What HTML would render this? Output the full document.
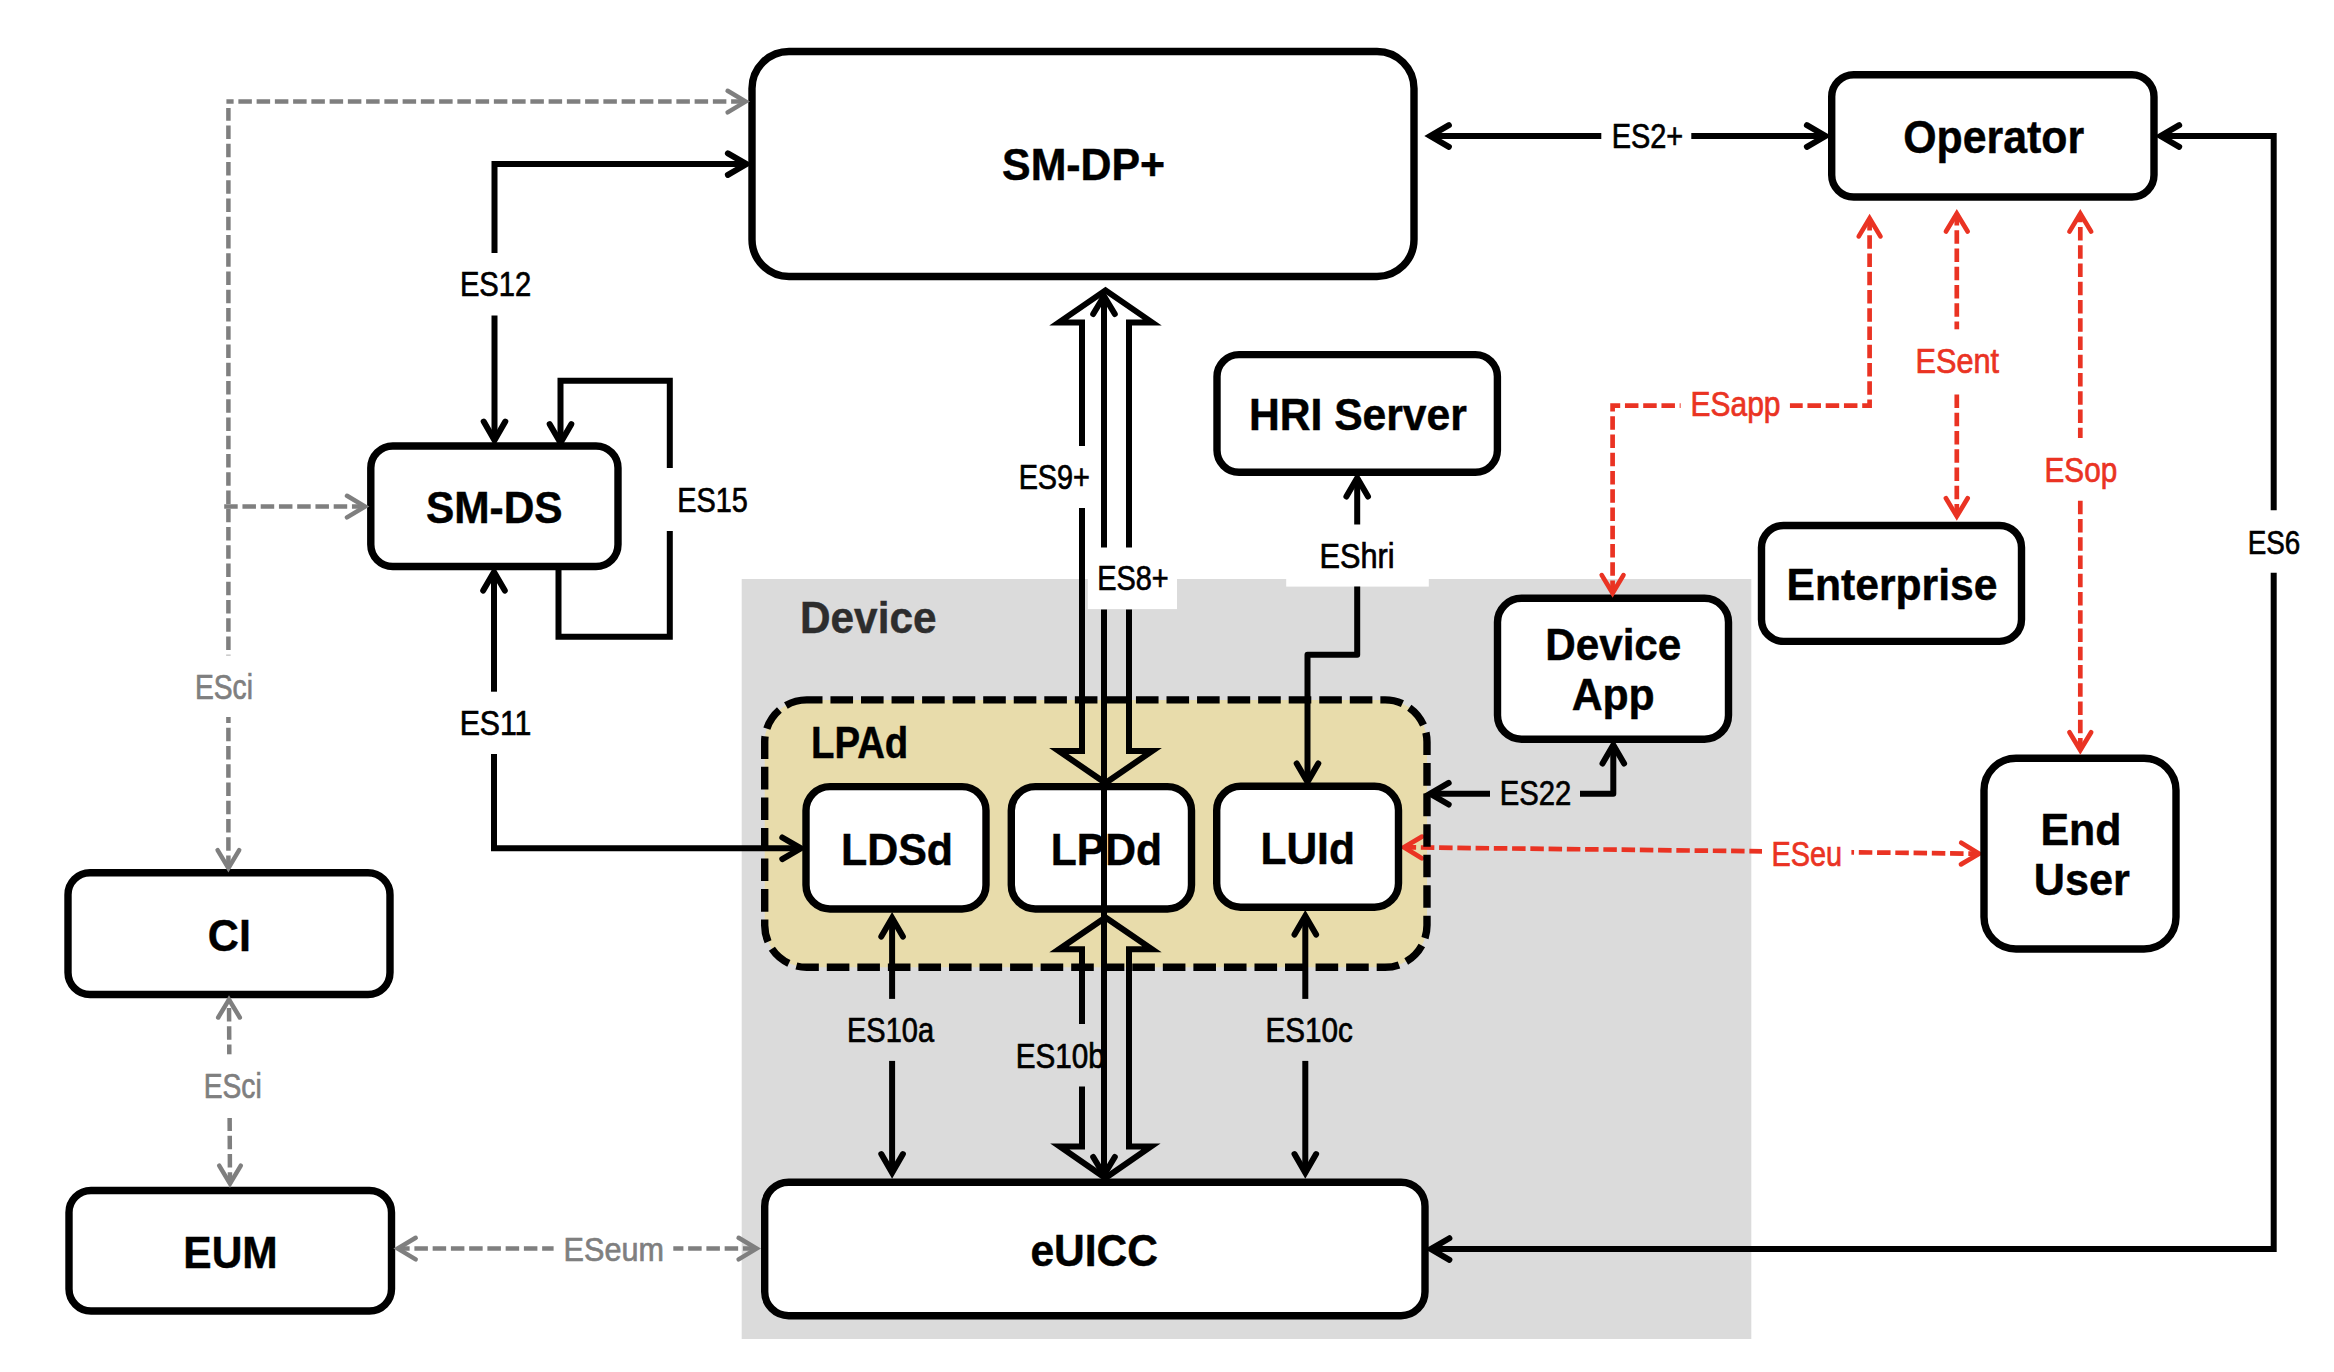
<!DOCTYPE html>
<html><head><meta charset="utf-8"><title>eSIM architecture</title>
<style>
html,body{margin:0;padding:0;background:#fff;}
body{width:2334px;height:1372px;overflow:hidden;}
svg{display:block;font-family:"Liberation Sans", sans-serif;}
</style></head><body>
<svg width="2334" height="1372" viewBox="0 0 2334 1372">
<rect width="2334" height="1372" fill="#fff"/>
<rect x="741.7" y="579" width="1009.6" height="760" fill="#dbdbdb"/>
<rect x="1087.8" y="560" width="89.2" height="49.1" fill="#fff"/>
<rect x="1286.2" y="560" width="142.6" height="26.6" fill="#fff"/>
<rect x="764.7" y="699.9" width="662.3" height="267.4" rx="42" ry="42" fill="#e8dcab"/>
<path d="M1403.9,847.3 L1979.1,853.7" fill="none" stroke="#ea3323" stroke-width="4.7" stroke-dasharray="13.5 4.75" stroke-dashoffset="1.3"/>
<rect x="1762" y="833" width="89.4" height="40" fill="#fff"/>
<path d="M1422.02,836.65 L1403.90,847.30 L1421.78,858.35" fill="none" stroke="#ea3323" stroke-width="4.7" stroke-linecap="round" stroke-linejoin="miter"/>
<path d="M1960.98,864.35 L1979.10,853.70 L1961.22,842.65" fill="none" stroke="#ea3323" stroke-width="4.7" stroke-linecap="round" stroke-linejoin="miter"/>
<rect x="764.7" y="699.9" width="662.3" height="267.4" rx="42" ry="42" fill="none" stroke="#000" stroke-width="7.4" stroke-dasharray="22.6 7.95" stroke-dashoffset="6.8"/>
<rect x="752" y="51.5" width="662.00" height="225.00" rx="37" ry="37" fill="#fff" stroke="#000" stroke-width="7.4" />
<rect x="1831.7" y="74.7" width="322.30" height="122.30" rx="22" ry="22" fill="#fff" stroke="#000" stroke-width="7.4" />
<rect x="1217" y="354.6" width="280.40" height="117.70" rx="22" ry="22" fill="#fff" stroke="#000" stroke-width="7.4" />
<rect x="370.8" y="446" width="247.20" height="120.50" rx="22" ry="22" fill="#fff" stroke="#000" stroke-width="7.4" />
<rect x="1761.5" y="525.5" width="260.00" height="115.90" rx="22" ry="22" fill="#fff" stroke="#000" stroke-width="7.4" />
<rect x="1497.5" y="598.3" width="231.00" height="140.90" rx="24" ry="24" fill="#fff" stroke="#000" stroke-width="7.4" />
<rect x="1984" y="758.2" width="192.00" height="190.80" rx="32" ry="32" fill="#fff" stroke="#000" stroke-width="7.4" />
<rect x="68" y="872.7" width="322.00" height="121.80" rx="22" ry="22" fill="#fff" stroke="#000" stroke-width="7.4" />
<rect x="69" y="1190.5" width="322.50" height="120.50" rx="22" ry="22" fill="#fff" stroke="#000" stroke-width="7.4" />
<rect x="764.7" y="1182.2" width="660.30" height="133.50" rx="24" ry="24" fill="#fff" stroke="#000" stroke-width="7.4" />
<rect x="806" y="786.6" width="180.00" height="122.40" rx="24" ry="24" fill="#fff" stroke="#000" stroke-width="7.4" />
<rect x="1011.3" y="786.6" width="180.20" height="122.40" rx="24" ry="24" fill="#fff" stroke="#000" stroke-width="7.4" />
<rect x="1216.7" y="786.3" width="181.80" height="120.90" rx="24" ry="24" fill="#fff" stroke="#000" stroke-width="7.4" />
<path d="M494.5,253 V164.1 H746.5" fill="none" stroke="#000" stroke-width="6" stroke-linecap="butt" stroke-linejoin="miter"/>
<path d="M727.90,174.90 L746.50,164.10 L727.90,153.30" fill="none" stroke="#000" stroke-width="6" stroke-linecap="round" stroke-linejoin="miter"/>
<path d="M494.5,315.5 V440.2" fill="none" stroke="#000" stroke-width="6" stroke-linecap="butt" stroke-linejoin="miter"/>
<path d="M483.70,421.60 L494.50,440.20 L505.30,421.60" fill="none" stroke="#000" stroke-width="6" stroke-linecap="round" stroke-linejoin="miter"/>
<path d="M560.5,442.8 V380.8 H669.8 V468" fill="none" stroke="#000" stroke-width="6" stroke-linecap="butt" stroke-linejoin="miter"/>
<path d="M669.8,531 V636.8 H558.5 V570" fill="none" stroke="#000" stroke-width="6" stroke-linecap="butt" stroke-linejoin="miter"/>
<path d="M549.70,424.20 L560.50,442.80 L571.30,424.20" fill="none" stroke="#000" stroke-width="6" stroke-linecap="round" stroke-linejoin="miter"/>
<path d="M494,572 V691.7" fill="none" stroke="#000" stroke-width="6" stroke-linecap="butt" stroke-linejoin="miter"/>
<path d="M504.80,590.60 L494.00,572.00 L483.20,590.60" fill="none" stroke="#000" stroke-width="6" stroke-linecap="round" stroke-linejoin="miter"/>
<path d="M494,754.1 V848.3 H800.9" fill="none" stroke="#000" stroke-width="6" stroke-linecap="butt" stroke-linejoin="miter"/>
<path d="M782.30,859.10 L800.90,848.30 L782.30,837.50" fill="none" stroke="#000" stroke-width="6" stroke-linecap="round" stroke-linejoin="miter"/>
<path d="M1430.3,136 H1601.3" fill="none" stroke="#000" stroke-width="6" stroke-linecap="butt" stroke-linejoin="miter"/>
<path d="M1691.3,136 H1825.5" fill="none" stroke="#000" stroke-width="6" stroke-linecap="butt" stroke-linejoin="miter"/>
<path d="M1448.90,125.20 L1430.30,136.00 L1448.90,146.80" fill="none" stroke="#000" stroke-width="6" stroke-linecap="round" stroke-linejoin="miter"/>
<path d="M1806.90,146.80 L1825.50,136.00 L1806.90,125.20" fill="none" stroke="#000" stroke-width="6" stroke-linecap="round" stroke-linejoin="miter"/>
<path d="M2160.6,136 H2273.7 V510.2" fill="none" stroke="#000" stroke-width="6" stroke-linecap="butt" stroke-linejoin="miter"/>
<path d="M2273.7,572.8 V1249.05 H1430.8" fill="none" stroke="#000" stroke-width="6" stroke-linecap="butt" stroke-linejoin="miter"/>
<path d="M2179.20,125.20 L2160.60,136.00 L2179.20,146.80" fill="none" stroke="#000" stroke-width="6" stroke-linecap="round" stroke-linejoin="miter"/>
<path d="M1449.40,1238.25 L1430.80,1249.05 L1449.40,1259.85" fill="none" stroke="#000" stroke-width="6" stroke-linecap="round" stroke-linejoin="miter"/>
<path d="M1357.2,477.9 V524.5" fill="none" stroke="#000" stroke-width="6" stroke-linecap="butt" stroke-linejoin="miter"/>
<path d="M1368.00,496.50 L1357.20,477.90 L1346.40,496.50" fill="none" stroke="#000" stroke-width="6" stroke-linecap="round" stroke-linejoin="miter"/>
<path d="M1357.2,586.6 V654.8 H1307.5 V782.1" fill="none" stroke="#000" stroke-width="6" stroke-linecap="butt" stroke-linejoin="round"/>
<path d="M1296.70,763.50 L1307.50,782.10 L1318.30,763.50" fill="none" stroke="#000" stroke-width="6" stroke-linecap="round" stroke-linejoin="miter"/>
<path d="M1430.1,793.7 H1490" fill="none" stroke="#000" stroke-width="6" stroke-linecap="butt" stroke-linejoin="miter"/>
<path d="M1580,793.7 H1613.3 V744.9" fill="none" stroke="#000" stroke-width="6" stroke-linecap="butt" stroke-linejoin="round"/>
<path d="M1448.70,782.90 L1430.10,793.70 L1448.70,804.50" fill="none" stroke="#000" stroke-width="6" stroke-linecap="round" stroke-linejoin="miter"/>
<path d="M1624.10,763.50 L1613.30,744.90 L1602.50,763.50" fill="none" stroke="#000" stroke-width="6" stroke-linecap="round" stroke-linejoin="miter"/>
<path d="M892.1,918 V998.9" fill="none" stroke="#000" stroke-width="6" stroke-linecap="butt" stroke-linejoin="miter"/>
<path d="M892.1,1060.9 V1172.7" fill="none" stroke="#000" stroke-width="6" stroke-linecap="butt" stroke-linejoin="miter"/>
<path d="M902.90,936.60 L892.10,918.00 L881.30,936.60" fill="none" stroke="#000" stroke-width="6" stroke-linecap="round" stroke-linejoin="miter"/>
<path d="M881.30,1154.10 L892.10,1172.70 L902.90,1154.10" fill="none" stroke="#000" stroke-width="6" stroke-linecap="round" stroke-linejoin="miter"/>
<path d="M1305.3,916 V998.9" fill="none" stroke="#000" stroke-width="6" stroke-linecap="butt" stroke-linejoin="miter"/>
<path d="M1305.3,1060.9 V1172.7" fill="none" stroke="#000" stroke-width="6" stroke-linecap="butt" stroke-linejoin="miter"/>
<path d="M1316.10,934.60 L1305.30,916.00 L1294.50,934.60" fill="none" stroke="#000" stroke-width="6" stroke-linecap="round" stroke-linejoin="miter"/>
<path d="M1294.50,1154.10 L1305.30,1172.70 L1316.10,1154.10" fill="none" stroke="#000" stroke-width="6" stroke-linecap="round" stroke-linejoin="miter"/>
<path d="M745.6,101.6 H226.4" fill="none" stroke="#7f7f7f" stroke-width="4.5" stroke-dasharray="13.5 4.75" stroke-dashoffset="17.27" stroke-linejoin="miter"/>
<path d="M228.4,868.2 V108.1" fill="none" stroke="#7f7f7f" stroke-width="4.5" stroke-dasharray="13.5 4.75" stroke-dashoffset="0.75" stroke-linejoin="miter"/>
<path d="M727.60,112.40 L745.60,101.60 L727.60,90.80" fill="none" stroke="#7f7f7f" stroke-width="4.5" stroke-linecap="round" stroke-linejoin="miter"/>
<path d="M217.60,850.20 L228.40,868.20 L239.20,850.20" fill="none" stroke="#7f7f7f" stroke-width="4.5" stroke-linecap="round" stroke-linejoin="miter"/>
<path d="M224.2,506.6 H365" fill="none" stroke="#7f7f7f" stroke-width="4.5" stroke-dasharray="13.5 4.75" stroke-dashoffset="0" stroke-linejoin="miter"/>
<path d="M347.00,517.40 L365.00,506.60 L347.00,495.80" fill="none" stroke="#7f7f7f" stroke-width="4.5" stroke-linecap="round" stroke-linejoin="miter"/>
<rect x="185" y="655.4" width="80.00" height="61.60" fill="#fff"/>
<path d="M229,999.5 L230,1183.6" fill="none" stroke="#7f7f7f" stroke-width="4.5" stroke-dasharray="13.5 4.75" stroke-dashoffset="9.65" stroke-linejoin="miter"/>
<path d="M239.80,1017.50 L229.00,999.50 L218.20,1017.50" fill="none" stroke="#7f7f7f" stroke-width="4.5" stroke-linecap="round" stroke-linejoin="miter"/>
<path d="M219.20,1165.60 L230.00,1183.60 L240.80,1165.60" fill="none" stroke="#7f7f7f" stroke-width="4.5" stroke-linecap="round" stroke-linejoin="miter"/>
<rect x="195" y="1054.3" width="75.00" height="63.70" fill="#fff"/>
<path d="M397.7,1248.6 H756.6" fill="none" stroke="#7f7f7f" stroke-width="4.5" stroke-dasharray="13.5 4.75" stroke-dashoffset="1.55" stroke-linejoin="miter"/>
<path d="M415.70,1237.80 L397.70,1248.60 L415.70,1259.40" fill="none" stroke="#7f7f7f" stroke-width="4.5" stroke-linecap="round" stroke-linejoin="miter"/>
<path d="M738.60,1259.40 L756.60,1248.60 L738.60,1237.80" fill="none" stroke="#7f7f7f" stroke-width="4.5" stroke-linecap="round" stroke-linejoin="miter"/>
<rect x="553.6" y="1228" width="119.70" height="42.00" fill="#fff"/>
<path d="M1869.6,218.4 V405.7 H1612.6 V593.1" fill="none" stroke="#ea3323" stroke-width="4.7" stroke-dasharray="13.5 4.75" stroke-dashoffset="1.3" stroke-linejoin="miter"/>
<path d="M1880.45,236.40 L1869.60,218.40 L1858.75,236.40" fill="none" stroke="#ea3323" stroke-width="4.7" stroke-linecap="round" stroke-linejoin="miter"/>
<path d="M1601.75,575.10 L1612.60,593.10 L1623.45,575.10" fill="none" stroke="#ea3323" stroke-width="4.7" stroke-linecap="round" stroke-linejoin="miter"/>
<rect x="1680.6" y="385" width="109.30" height="43.00" fill="#fff"/>
<path d="M1956.8,213.5 V516.3" fill="none" stroke="#ea3323" stroke-width="4.7" stroke-dasharray="13.5 4.75" stroke-dashoffset="1.5" stroke-linejoin="miter"/>
<path d="M1967.65,231.50 L1956.80,213.50 L1945.95,231.50" fill="none" stroke="#ea3323" stroke-width="4.7" stroke-linecap="round" stroke-linejoin="miter"/>
<path d="M1945.95,498.30 L1956.80,516.30 L1967.65,498.30" fill="none" stroke="#ea3323" stroke-width="4.7" stroke-linecap="round" stroke-linejoin="miter"/>
<rect x="1905" y="329.3" width="105.00" height="64.70" fill="#fff"/>
<path d="M2080.3,213.6 V750.2" fill="none" stroke="#ea3323" stroke-width="4.7" stroke-dasharray="13.5 4.75" stroke-dashoffset="4.75" stroke-linejoin="miter"/>
<path d="M2091.15,231.60 L2080.30,213.60 L2069.45,231.60" fill="none" stroke="#ea3323" stroke-width="4.7" stroke-linecap="round" stroke-linejoin="miter"/>
<path d="M2069.45,732.20 L2080.30,750.20 L2091.15,732.20" fill="none" stroke="#ea3323" stroke-width="4.7" stroke-linecap="round" stroke-linejoin="miter"/>
<rect x="2035" y="438" width="90.00" height="62.00" fill="#fff"/>
<path d="M1082,446 V322.4 H1058.9 L1105.5,290.3 L1152.1,322.4 H1129 V547.4" fill="none" stroke="#000" stroke-width="6" stroke-linecap="butt" stroke-linejoin="miter"/>
<path d="M1082,508 V751 H1058.8 L1105.5,783 L1152.2,751 H1129 V609.5" fill="none" stroke="#000" stroke-width="6" stroke-linecap="butt" stroke-linejoin="miter"/>
<path d="M1082,1023.9 V949.3 H1059 L1105.5,917.5 L1152,949.3 H1129 V1146.4 H1151 L1105.4,1178 L1059.8,1146.4 H1082 V1086.6" fill="none" stroke="#000" stroke-width="6" stroke-linecap="butt" stroke-linejoin="miter"/>
<path d="M1104,296 V547.4" fill="none" stroke="#000" stroke-width="6" stroke-linecap="butt" stroke-linejoin="miter"/>
<path d="M1104,609.5 V1175" fill="none" stroke="#000" stroke-width="6" stroke-linecap="butt" stroke-linejoin="miter"/>
<path d="M1114.80,314.00 L1104.00,296.00 L1093.20,314.00" fill="none" stroke="#000" stroke-width="6" stroke-linecap="round" stroke-linejoin="miter"/>
<path d="M1093.20,1157.00 L1104.00,1175.00 L1114.80,1157.00" fill="none" stroke="#000" stroke-width="6" stroke-linecap="round" stroke-linejoin="miter"/>
<text x="1002.07" y="180.00" font-size="45.06" font-weight="bold" fill="#000" stroke="#000" stroke-width="0.45" textLength="163.07" lengthAdjust="spacingAndGlyphs">SM-DP+</text>
<text x="1903.24" y="152.80" font-size="45.93" font-weight="bold" fill="#000" stroke="#000" stroke-width="0.45" textLength="180.91" lengthAdjust="spacingAndGlyphs">Operator</text>
<text x="1248.95" y="429.90" font-size="44.91" font-weight="bold" fill="#000" stroke="#000" stroke-width="0.45" textLength="217.90" lengthAdjust="spacingAndGlyphs">HRI Server</text>
<text x="425.98" y="522.70" font-size="44.48" font-weight="bold" fill="#000" stroke="#000" stroke-width="0.45" textLength="136.68" lengthAdjust="spacingAndGlyphs">SM-DS</text>
<text x="800.07" y="632.70" font-size="44.62" font-weight="bold" fill="#2d2d2d" stroke="#2d2d2d" stroke-width="0.45" textLength="136.37" lengthAdjust="spacingAndGlyphs">Device</text>
<text x="811.01" y="757.70" font-size="44.48" font-weight="bold" fill="#000" stroke="#000" stroke-width="0.45" textLength="97.25" lengthAdjust="spacingAndGlyphs">LPAd</text>
<text x="840.93" y="864.60" font-size="44.48" font-weight="bold" fill="#000" stroke="#000" stroke-width="0.45" textLength="112.10" lengthAdjust="spacingAndGlyphs">LDSd</text>
<text x="1050.75" y="864.60" font-size="44.48" font-weight="bold" fill="#000" stroke="#000" stroke-width="0.45" textLength="111.26" lengthAdjust="spacingAndGlyphs">LPDd</text>
<text x="1260.46" y="863.70" font-size="44.48" font-weight="bold" fill="#000" stroke="#000" stroke-width="0.45" textLength="94.45" lengthAdjust="spacingAndGlyphs">LUId</text>
<text x="1545.18" y="659.70" font-size="44.48" font-weight="bold" fill="#000" stroke="#000" stroke-width="0.45" textLength="136.17" lengthAdjust="spacingAndGlyphs">Device</text>
<text x="1571.64" y="709.80" font-size="44.48" font-weight="bold" fill="#000" stroke="#000" stroke-width="0.45" textLength="83.12" lengthAdjust="spacingAndGlyphs">App</text>
<text x="1786.55" y="599.70" font-size="44.33" font-weight="bold" fill="#000" stroke="#000" stroke-width="0.45" textLength="210.91" lengthAdjust="spacingAndGlyphs">Enterprise</text>
<text x="2040.43" y="844.90" font-size="44.91" font-weight="bold" fill="#000" stroke="#000" stroke-width="0.45" textLength="81.00" lengthAdjust="spacingAndGlyphs">End</text>
<text x="2033.71" y="895.10" font-size="45.20" font-weight="bold" fill="#000" stroke="#000" stroke-width="0.45" textLength="96.05" lengthAdjust="spacingAndGlyphs">User</text>
<text x="207.83" y="950.80" font-size="44.62" font-weight="bold" fill="#000" stroke="#000" stroke-width="0.45" textLength="43.04" lengthAdjust="spacingAndGlyphs">CI</text>
<text x="183.36" y="1267.70" font-size="44.48" font-weight="bold" fill="#000" stroke="#000" stroke-width="0.45" textLength="94.38" lengthAdjust="spacingAndGlyphs">EUM</text>
<text x="1030.44" y="1265.60" font-size="44.19" font-weight="bold" fill="#000" stroke="#000" stroke-width="0.45" textLength="127.62" lengthAdjust="spacingAndGlyphs">eUICC</text>
<text x="459.91" y="295.70" font-size="34.16" font-weight="normal" fill="#000" stroke="#000" stroke-width="0.7" textLength="71.36" lengthAdjust="spacingAndGlyphs">ES12</text>
<text x="677.23" y="511.80" font-size="34.45" font-weight="normal" fill="#000" stroke="#000" stroke-width="0.7" textLength="70.68" lengthAdjust="spacingAndGlyphs">ES15</text>
<text x="459.69" y="734.70" font-size="34.16" font-weight="normal" fill="#000" stroke="#000" stroke-width="0.7" textLength="71.74" lengthAdjust="spacingAndGlyphs">ES11</text>
<text x="194.89" y="698.80" font-size="34.45" font-weight="normal" fill="#7f7f7f" stroke="#7f7f7f" stroke-width="0.7" textLength="58.02" lengthAdjust="spacingAndGlyphs">ESci</text>
<text x="203.69" y="1097.70" font-size="34.30" font-weight="normal" fill="#7f7f7f" stroke="#7f7f7f" stroke-width="0.7" textLength="58.02" lengthAdjust="spacingAndGlyphs">ESci</text>
<text x="563.59" y="1260.60" font-size="33.87" font-weight="normal" fill="#7f7f7f" stroke="#7f7f7f" stroke-width="0.7" textLength="100.33" lengthAdjust="spacingAndGlyphs">ESeum</text>
<text x="1018.64" y="488.70" font-size="34.16" font-weight="normal" fill="#000" stroke="#000" stroke-width="0.7" textLength="71.28" lengthAdjust="spacingAndGlyphs">ES9+</text>
<text x="1097.23" y="589.80" font-size="34.16" font-weight="normal" fill="#000" stroke="#000" stroke-width="0.7" textLength="71.50" lengthAdjust="spacingAndGlyphs">ES8+</text>
<text x="1319.58" y="567.80" font-size="34.16" font-weight="normal" fill="#000" stroke="#000" stroke-width="0.7" textLength="74.98" lengthAdjust="spacingAndGlyphs">EShri</text>
<text x="1611.73" y="147.80" font-size="34.16" font-weight="normal" fill="#000" stroke="#000" stroke-width="0.7" textLength="71.50" lengthAdjust="spacingAndGlyphs">ES2+</text>
<text x="2247.82" y="553.70" font-size="33.87" font-weight="normal" fill="#000" stroke="#000" stroke-width="0.7" textLength="52.50" lengthAdjust="spacingAndGlyphs">ES6</text>
<text x="1690.54" y="415.90" font-size="34.59" font-weight="normal" fill="#ea3323" stroke="#ea3323" stroke-width="0.7" textLength="89.91" lengthAdjust="spacingAndGlyphs">ESapp</text>
<text x="1915.48" y="372.80" font-size="34.30" font-weight="normal" fill="#ea3323" stroke="#ea3323" stroke-width="0.7" textLength="83.54" lengthAdjust="spacingAndGlyphs">ESent</text>
<text x="2044.56" y="481.80" font-size="34.45" font-weight="normal" fill="#ea3323" stroke="#ea3323" stroke-width="0.7" textLength="72.69" lengthAdjust="spacingAndGlyphs">ESop</text>
<text x="1499.70" y="804.80" font-size="34.16" font-weight="normal" fill="#000" stroke="#000" stroke-width="0.7" textLength="71.57" lengthAdjust="spacingAndGlyphs">ES22</text>
<text x="1771.53" y="865.80" font-size="34.45" font-weight="normal" fill="#ea3323" stroke="#ea3323" stroke-width="0.7" textLength="70.58" lengthAdjust="spacingAndGlyphs">ESeu</text>
<text x="847.02" y="1041.70" font-size="34.30" font-weight="normal" fill="#000" stroke="#000" stroke-width="0.7" textLength="86.98" lengthAdjust="spacingAndGlyphs">ES10a</text>
<text x="1015.67" y="1067.80" font-size="34.30" font-weight="normal" fill="#000" stroke="#000" stroke-width="0.7" textLength="89.08" lengthAdjust="spacingAndGlyphs">ES10b</text>
<text x="1265.47" y="1041.70" font-size="34.30" font-weight="normal" fill="#000" stroke="#000" stroke-width="0.7" textLength="87.31" lengthAdjust="spacingAndGlyphs">ES10c</text>
</svg>
</body></html>
